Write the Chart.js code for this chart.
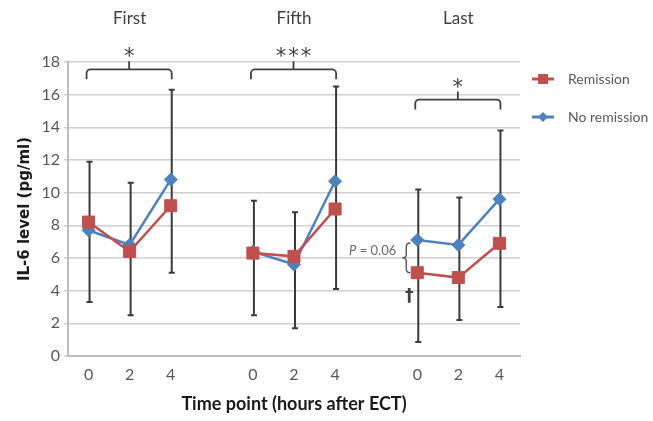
<!DOCTYPE html>
<html>
<head>
<meta charset="utf-8">
<script src="https://cdn.jsdelivr.net/npm/chart.js@4.4.0/dist/chart.umd.min.js"></script>
<style>
  html, body { margin: 0; padding: 0; background: #fff; }
  #wrap { width: 653px; height: 421px; }
</style>
</head>
<body>
<div id="wrap"><canvas id="chart" width="653" height="421"></canvas></div>
<script>
// time points, blank slots separate the three treatments
const timeLabels = ['0', '2', '4', '', '0', '2', '4', '', '0', '2', '4'];
const groupNames = ['First', 'Fifth', 'Last'];
const groupCenters = [1, 5, 9];

// IL-6 means (pg/ml)
const remission   = [8.2, 6.4, 9.2, null, 6.3, 6.1, 9.0, null, 5.1, 4.8, 6.9];
const noRemission = [7.7, 6.8, 10.8, null, 6.4, 5.6, 10.7, null, 7.1, 6.8, 9.6];

// error bar ends
const errHigh = [11.9, 10.6, 16.3, null, 9.5, 8.8, 16.5, null, 10.2, 9.7, 13.8];
const errLow  = [3.3, 2.5, 5.1, null, 2.5, 1.7, 4.1, null, 0.85, 2.2, 3.0];

// significance brackets
const bracketFrom  = [0, 4, 8];
const bracketTo    = [2, 6, 10];
const bracketLevel = [17.55, 17.55, 15.7];
const bracketMarks = ['*', '***', '*'];

const RED = '#C0504D';
const BLUE = '#4F81BD';
const TEXT = '#595959';

Chart.defaults.font.family = 'Lato';
Chart.defaults.color = TEXT;

const extras = {
  id: 'extras',
  beforeDatasetsDraw(chart) {
    const { ctx, scales: { x, y } } = chart;
    ctx.save();
    ctx.strokeStyle = '#3a3a3a';
    ctx.lineWidth = 2;
    errHigh.forEach((hi, i) => {
      if (hi == null) return;
      const px = x.getPixelForValue(i) + 1;
      const top = y.getPixelForValue(hi);
      const bot = y.getPixelForValue(errLow[i]);
      ctx.beginPath();
      ctx.moveTo(px, top); ctx.lineTo(px, bot);
      ctx.moveTo(px - 3, top); ctx.lineTo(px + 3, top);
      ctx.moveTo(px - 3, bot); ctx.lineTo(px + 3, bot);
      ctx.stroke();
    });
    ctx.restore();
  },
  afterDraw(chart) {
    const { ctx, scales: { x, y } } = chart;
    ctx.save();

    // treatment names
    ctx.fillStyle = '#404040';
    ctx.font = '17px Lato';
    ctx.textAlign = 'center';
    ctx.textBaseline = 'middle';
    groupNames.forEach((name, i) => {
      ctx.fillText(name, x.getPixelForValue(groupCenters[i]), 19);
    });

    // brackets with stars
    ctx.strokeStyle = '#404040';
    ctx.lineWidth = 1.8;
    bracketFrom.forEach((from, i) => {
      const x1 = x.getPixelForValue(from) - 2;
      const x2 = x.getPixelForValue(bracketTo[i]) + 1;
      const yt = y.getPixelForValue(bracketLevel[i]);
      const xm = (x1 + x2) / 2;
      ctx.beginPath();
      ctx.moveTo(x1, yt + 10);
      ctx.arcTo(x1, yt, x1 + 5, yt, 4);
      ctx.arcTo(x2, yt, x2, yt + 10, 4);
      ctx.lineTo(x2, yt + 10);
      ctx.moveTo(xm, yt);
      ctx.lineTo(xm, yt - 8);
      ctx.stroke();
      ctx.fillStyle = '#404040';
      ctx.font = '21px "DejaVu Sans"';
      ctx.textBaseline = 'alphabetic';
      ctx.textAlign = 'center';
      const n = bracketMarks[i].length;
      for (let k = 0; k < n; k++) {
        ctx.fillText('*', xm + (k - (n - 1) / 2) * 12.5, yt - 6);
      }
    });

    // P = 0.06 brace at last treatment, time 0
    const xc = x.getPixelForValue(8);
    const bTop = y.getPixelForValue(noRemission[8]) + 3;
    const bBot = y.getPixelForValue(remission[8]);
    const bMid = (bTop + bBot) / 2;
    const xb = xc - 11;
    ctx.strokeStyle = '#555';
    ctx.lineWidth = 1.4;
    ctx.beginPath();
    ctx.moveTo(xb + 4, bTop);
    ctx.quadraticCurveTo(xb, bTop, xb, bTop + 4);
    ctx.lineTo(xb, bMid - 3);
    ctx.quadraticCurveTo(xb, bMid, xb - 4, bMid);
    ctx.quadraticCurveTo(xb, bMid, xb, bMid + 3);
    ctx.lineTo(xb, bBot - 4);
    ctx.quadraticCurveTo(xb, bBot, xb + 4, bBot);
    ctx.stroke();

    ctx.fillStyle = '#6a6a6a';
    ctx.textBaseline = 'middle';
    ctx.textAlign = 'right';
    ctx.font = '13px Lato';
    const rest = ' = 0.06';
    ctx.fillText(rest, xb - 10, bTop + 8);
    const restW = ctx.measureText(rest).width;
    ctx.font = 'italic 13px Lato';
    ctx.fillText('P', xb - 10 - restW, bTop + 8);

    // dagger under the remission point
    ctx.fillStyle = '#404040';
    ctx.font = 'bold 17px "DejaVu Sans"';
    ctx.textAlign = 'center';
    ctx.fillText('\u2020', xc - 8, bBot + 24);

    // legend
    const items = [
      { label: 'Remission', color: RED, shape: 'rect' },
      { label: 'No remission', color: BLUE, shape: 'rectRot' }
    ];
    items.forEach((it, i) => {
      const ly = 79 + i * 38;
      ctx.strokeStyle = it.color;
      ctx.lineWidth = 3;
      ctx.beginPath();
      ctx.moveTo(532, ly); ctx.lineTo(554, ly);
      ctx.stroke();
      ctx.fillStyle = it.color;
      ctx.beginPath();
      if (it.shape === 'rect') {
        ctx.rect(538, ly - 5, 10, 10);
      } else {
        ctx.moveTo(543, ly - 5); ctx.lineTo(548, ly);
        ctx.lineTo(543, ly + 5); ctx.lineTo(538, ly);
        ctx.closePath();
      }
      ctx.fill();
      ctx.fillStyle = TEXT;
      ctx.font = '14px Lato';
      ctx.textAlign = 'left';
      ctx.fillText(it.label, 568, ly);
    });

    ctx.restore();
  }
};

new Chart(document.getElementById('chart'), {
  type: 'line',
  data: {
    labels: timeLabels,
    datasets: [
      {
        label: 'Remission',
        data: remission,
        borderColor: RED,
        backgroundColor: RED,
        borderWidth: 2.5,
        pointStyle: 'rect',
        pointRadius: 8.5,
        pointBorderWidth: 1,
        spanGaps: false
      },
      {
        label: 'No remission',
        data: noRemission,
        borderColor: BLUE,
        backgroundColor: BLUE,
        borderWidth: 2.5,
        pointStyle: 'rectRot',
        pointRadius: 6.5,
        pointBorderWidth: 1,
        spanGaps: false
      }
    ]
  },
  options: {
    responsive: false,
    animation: false,
    layout: { padding: { top: 62, right: 133, bottom: 0, left: 0 } },
    plugins: {
      legend: { display: false },
      tooltip: { enabled: false }
    },
    scales: {
      x: {
        offset: true,
        grid: { display: false },
        border: { color: '#bdbdbd', width: 2 },
        ticks: { padding: 1, font: { size: 16 }, autoSkip: false, maxRotation: 0 },
        title: {
          display: true,
          text: 'Time point (hours after ECT)',
          color: '#1a1a1a',
          font: { size: 18, weight: 'bold' },
          padding: { top: 0, bottom: 6 }
        },
        afterFit(scale) { scale.height = 65; }
      },
      y: {
        min: 0,
        max: 18,
        ticks: { stepSize: 2, padding: 4, font: { size: 16 } },
        grid: { color: '#d0d0d0', lineWidth: 1.5, tickLength: 4 },
        border: { color: '#bdbdbd', width: 2 },
        title: {
          display: true,
          text: 'IL-6 level (pg/ml)',
          color: '#1a1a1a',
          font: { family: 'DejaVu Sans', size: 15, weight: 'bold' },
          padding: { top: 16, bottom: 0 }
        },
        afterFit(scale) { scale.width = 68; }
      }
    }
  },
  plugins: [extras]
});
</script>
</body>
</html>
